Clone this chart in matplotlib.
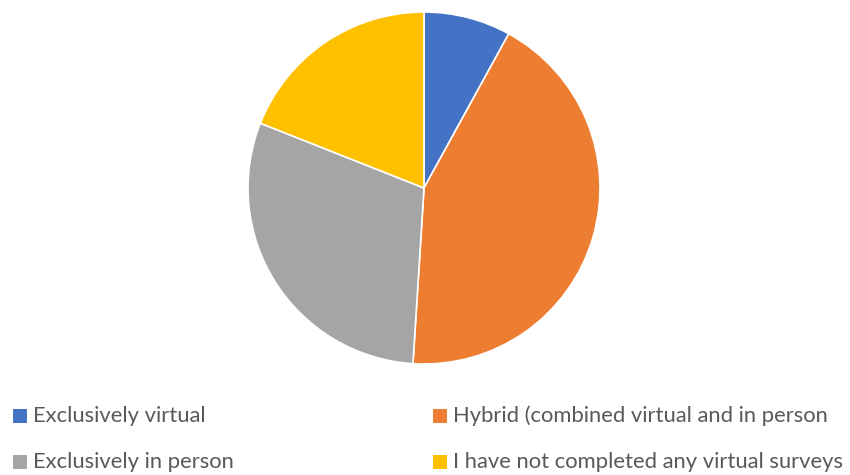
import matplotlib
matplotlib.use("Agg")
import matplotlib.pyplot as plt
from matplotlib.patches import Rectangle

labels = [
    "Exclusively virtual",
    "Hybrid (combined virtual and in person",
    "Exclusively in person",
    "I have not completed any virtual surveys",
]
shares = [8, 43, 30, 19]
colors = ["#4472C4", "#ED7D31", "#A5A5A5", "#FFC000"]

W, H = 850, 475
fig = plt.figure(figsize=(W / 100, H / 100), dpi=100)
fig.patch.set_facecolor("white")

# pie axes: centre (424, 188) px, radius 176 px
cx, cy, r = 424, 188, 176
ax = fig.add_axes([(cx - r) / W, 1 - (cy + r) / H, 2 * r / W, 2 * r / H])
ax.pie(shares, colors=colors, startangle=90, counterclock=False,
       radius=1.0, wedgeprops=dict(edgecolor="white", linewidth=1.2))
ax.set_xlim(-1, 1)
ax.set_ylim(-1, 1)
ax.set_aspect("equal")
ax.axis("off")

# legend: 2 columns x 2 rows
marker_x = [13, 433]
text_x = [33, 453]
row_y = [416, 462]
sq = 14
for i, (lab, col) in enumerate(zip(labels, colors)):
    c, rr = i % 2, i // 2
    x0, y0 = marker_x[c], row_y[rr]
    fig.patches.append(Rectangle((x0 / W, 1 - (y0 + sq / 2) / H), sq / W, sq / H,
                                 transform=fig.transFigure, facecolor=col,
                                 edgecolor="none"))
    fig.text(text_x[c] / W, 1 - y0 / H, lab, ha="left", va="center",
             fontsize=15.8, color="#595959", family="Lato")

fig.savefig("out.png", dpi=100)
